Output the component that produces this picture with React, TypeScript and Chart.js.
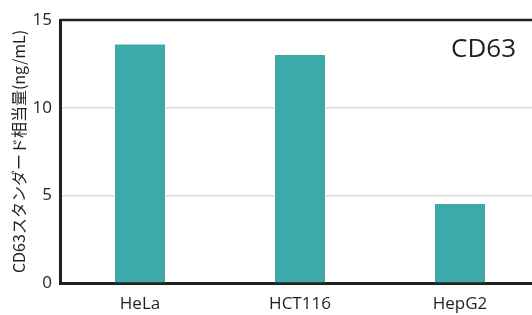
import React, { useEffect, useRef } from "react";
import { Chart, registerables } from "chart.js";

Chart.register(...registerables);

const categories = ["HeLa", "HCT116", "HepG2"];
const values = [13.6, 13.0, 4.5];
const yTicks = [0, 5, 10, 15];
const yTitle = "CD63スタンダード相当量(ng/mL)";
const panelLabel = "CD63";

const TEXT = "#231f20";
const BAR = "#3daaa9";

export default function App() {
  const ref = useRef<HTMLCanvasElement | null>(null);

  useEffect(() => {
    document.body.style.margin = "0";
    document.body.style.overflow = "hidden";
    const ctx = ref.current!.getContext("2d")!;

    const overlay = {
      id: "overlay",
      afterDraw(chart: any) {
        const { ctx, chartArea } = chart;
        ctx.save();
        ctx.strokeStyle = TEXT;
        ctx.lineWidth = 2.5;
        ctx.beginPath();
        ctx.moveTo(chartArea.left, chartArea.top);
        ctx.lineTo(chartArea.right, chartArea.top);
        ctx.stroke();
        ctx.fillStyle = TEXT;
        ctx.font = '26px "Open Sans", "Noto Sans", sans-serif';
        ctx.textAlign = "right";
        ctx.textBaseline = "middle";
        ctx.fillText(panelLabel, 516, 50);
        ctx.restore();
      },
    };

    const chart = new Chart(ctx, {
      type: "bar",
      data: {
        labels: categories,
        datasets: [
          {
            data: values,
            backgroundColor: BAR,
            borderWidth: 0,
            categoryPercentage: 1,
            barPercentage: 0.3125,
          },
        ],
      },
      options: {
        animation: false,
        responsive: false,
        maintainAspectRatio: false,
        layout: { padding: { top: 20, left: 0, right: 0, bottom: 0 } },
        plugins: {
          legend: { display: false },
          tooltip: { enabled: false },
        },
        scales: {
          x: {
            grid: { display: false, drawTicks: false },
            border: { display: true, color: TEXT, width: 3 },
            ticks: {
              color: TEXT,
              font: { family: '"Open Sans", "Noto Sans", sans-serif', size: 17 },
              padding: 11,
            },
            afterFit(scale: any) {
              scale.height = 32;
            },
          },
          y: {
            min: 0,
            max: 15,
            afterBuildTicks(scale: any) {
              scale.ticks = yTicks.map((v) => ({ value: v }));
            },
            grid: {
              drawTicks: false,
              color: (c: any) =>
                c.tick && (c.tick.value === 0 || c.tick.value === 15)
                  ? "rgba(0,0,0,0)"
                  : "#dcdcdc",
              lineWidth: 1.5,
            },
            border: { display: true, color: TEXT, width: 3 },
            ticks: {
              color: TEXT,
              font: { family: '"Open Sans", "Noto Sans", sans-serif', size: 17 },
              padding: 8,
            },
            title: {
              display: true,
              text: yTitle,
              color: TEXT,
              font: {
                family: '"Noto Sans CJK JP", "Noto Sans", sans-serif',
                size: 16,
              },
              padding: { top: 9, bottom: 0 },
            },
            afterFit(scale: any) {
              scale.width = 60;
            },
          },
        },
      },
      plugins: [overlay],
    });
    return () => chart.destroy();
  }, []);

  return (
    <div style={{ width: 532, height: 315, overflow: "hidden" }}>
      <canvas ref={ref} width={540} height={315} style={{ display: "block" }} />
    </div>
  );
}
